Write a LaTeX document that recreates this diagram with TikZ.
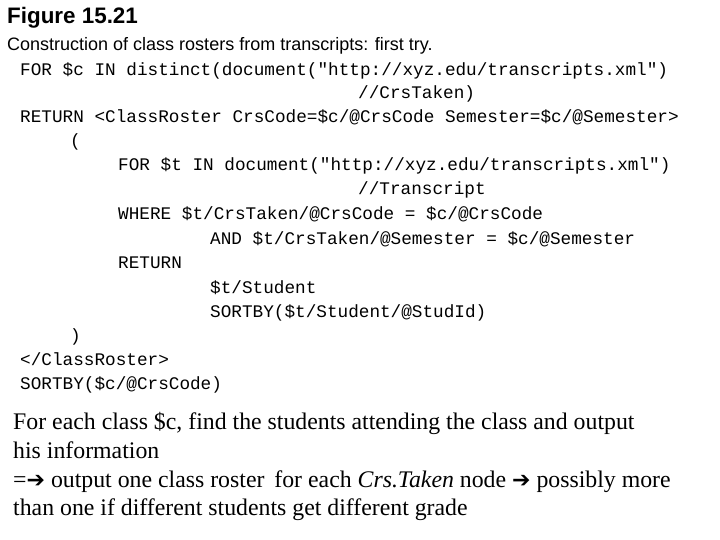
\documentclass[tikz,border=0pt]{standalone}
\usepackage{fontspec}
\setmainfont{Liberation Serif}
\setsansfont{Liberation Sans}
\setmonofont{Liberation Mono}
\newfontfamily\symf{DejaVu Sans}
\begin{document}
\begin{tikzpicture}[x=1pt,y=-1pt,
  code/.style={anchor=base west,inner sep=0pt,font=\ttfamily\fontsize{17.7}{20}\selectfont},
  body/.style={anchor=base west,inner sep=0pt,font=\rmfamily\fontsize{23.8}{26}\selectfont}]
\useasboundingbox (0,0) rectangle (720,540);
\node[anchor=base west,inner sep=0pt,font=\sffamily\bfseries\fontsize{22.4}{24}\selectfont] (t) at (7,24) {Figure 15.21};
\node[anchor=base west,inner sep=0pt,font=\sffamily\fontsize{18}{20}\selectfont] (s) at (7,51) {Construction of class rosters from transcripts: first try.};
\node[code] (c1) at (20,76) {FOR \$c IN distinct(document("http://xyz.edu/transcripts.xml")};
\node[code] (c2) at (358,99) {//CrsTaken)};
\node[code] (c3) at (20,123) {RETURN <ClassRoster CrsCode=\$c/@CrsCode Semester=\$c/@Semester>};
\node[code] (c4) at (70,147) {(};
\node[code] (c5) at (118,171) {FOR \$t IN document("http://xyz.edu/transcripts.xml")};
\node[code] (c6) at (358,195) {//Transcript};
\node[code] (c7) at (118,219) {WHERE \$t/CrsTaken/@CrsCode = \$c/@CrsCode};
\node[code] (c8) at (210,244) {AND \$t/CrsTaken/@Semester = \$c/@Semester};
\node[code] (c9) at (118,268) {RETURN};
\node[code] (c10) at (210,293) {\$t/Student};
\node[code] (c11) at (210,317) {SORTBY(\$t/Student/@StudId)};
\node[code] (c12) at (70,341) {)};
\node[code] (c13) at (20,365) {</ClassRoster>};
\node[code] (c14) at (20,389) {SORTBY(\$c/@CrsCode)};
\node[body] (b1) at (13,429) {For each class \$c, find the students attending the class and output};
\node[body] (b2) at (13,458) {his information};
\node[body] (b3) at (13,487) {={\symf\bfseries\fontsize{22}{24}\selectfont ➔} output one class roster\, for each \textit{Crs.Taken} node {\symf\bfseries\fontsize{22}{24}\selectfont ➔} possibly more};
\node[body] (b4) at (13,515) {than one if different students get different grade};
\end{tikzpicture}
\end{document}
